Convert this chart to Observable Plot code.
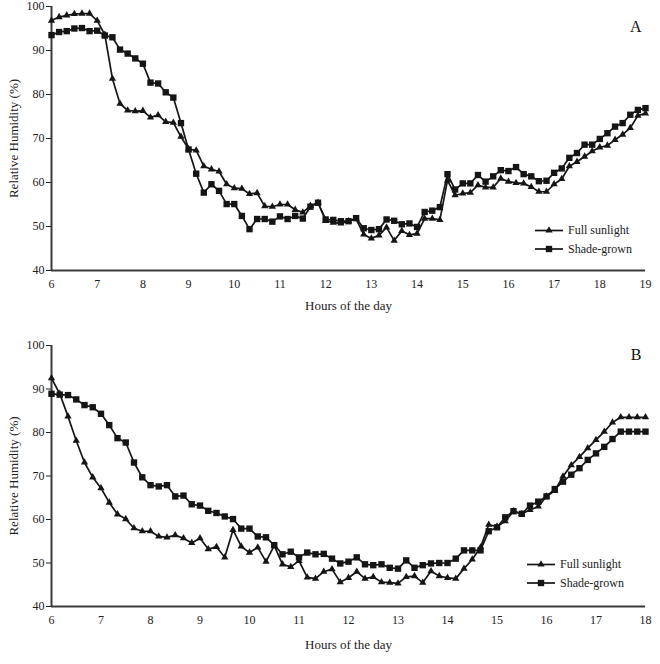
<!DOCTYPE html>
<html><head><meta charset="utf-8">
<script src="https://cdn.jsdelivr.net/npm/d3@7"></script>
<script src="https://cdn.jsdelivr.net/npm/@observablehq/plot@0.6"></script>
<style>
body{margin:0;background:#fff;}
#chart svg{display:block;}
</style></head><body><div id="chart"></div>
<script>
const seriesNames = ["Full sunlight", "Shade-grown"];
const yTicks = [40, 50, 60, 70, 80, 90, 100];
const hourTicksA = [6, 7, 8, 9, 10, 11, 12, 13, 14, 15, 16, 17, 18, 19];
const hourTicksB = [6, 7, 8, 9, 10, 11, 12, 13, 14, 15, 16, 17, 18];
const startHour = 6;
const stepMinutes = 10;
const axisTitleY = "Relative Humidity (%)";
const axisTitleX = "Hours of the day";

// Panel A (readings every 10 min from 6:00 to 19:00)
const fullA = [96.8, 97.6, 98.0, 98.3, 98.4, 98.4, 96.8, 93.6, 83.6, 77.9,
  76.4, 76.2, 76.3, 74.8, 75.3, 73.8, 73.6, 70.4, 67.6, 67.3,
  63.7, 63.0, 62.5, 59.6, 58.7, 58.6, 57.4, 57.6, 54.6, 54.5,
  55.0, 55.0, 53.8, 53.2, 54.7, 55.4, 51.3, 50.9, 50.7, 51.2,
  51.7, 48.2, 47.3, 48.0, 49.8, 46.8, 49.0, 48.1, 48.4, 51.8,
  51.8, 51.5, 60.5, 57.1, 57.5, 57.7, 59.4, 58.9, 58.9, 60.9,
  60.2, 59.9, 59.8, 59.0, 57.9, 57.9, 59.6, 60.8, 63.7, 64.7,
  65.9, 67.1, 68.0, 68.4, 69.7, 70.9, 72.4, 75.2, 75.7];
const shadeA = [93.5, 94.2, 94.4, 95.0, 95.1, 94.4, 94.5, 93.4, 93.0, 90.2,
  89.3, 88.2, 87.0, 82.7, 82.5, 80.5, 79.3, 73.5, 67.5, 62.0,
  57.7, 59.6, 58.1, 55.1, 55.1, 52.4, 49.4, 51.7, 51.7, 51.1,
  52.3, 51.7, 52.4, 51.8, 54.5, 55.4, 51.6, 51.5, 51.2, 51.2,
  51.9, 49.6, 49.2, 49.4, 51.6, 51.3, 50.5, 50.7, 49.9, 53.3,
  53.6, 54.4, 61.9, 58.4, 59.8, 59.8, 61.7, 60.2, 61.4, 62.8,
  62.6, 63.5, 61.9, 61.4, 60.3, 60.4, 62.2, 63.2, 65.6, 66.7,
  68.6, 68.6, 69.9, 71.2, 72.7, 73.5, 75.4, 76.5, 76.9];

// Panel B (readings every 10 min from 6:00 to 18:00)
const fullB = [92.5, 88.9, 83.7, 78.1, 73.1, 69.7, 67.2, 63.9, 61.2, 60.1,
  58.0, 57.3, 57.3, 56.1, 55.9, 56.4, 55.7, 54.6, 55.7, 53.2,
  53.7, 51.3, 57.6, 53.8, 52.4, 53.6, 50.3, 54.0, 49.7, 49.1,
  50.5, 46.7, 46.4, 48.0, 48.6, 45.6, 46.6, 48.0, 46.4, 46.8,
  45.6, 45.5, 45.3, 46.8, 47.0, 45.5, 48.1, 47.0, 46.6, 46.4,
  48.7, 50.8, 53.6, 58.8, 58.4, 59.6, 61.9, 61.3, 62.2, 63.0,
  65.3, 66.6, 69.9, 72.5, 74.4, 76.4, 78.3, 80.2, 82.3, 83.5,
  83.5, 83.5, 83.5];
const shadeB = [88.9, 88.7, 88.6, 87.6, 86.3, 85.8, 84.3, 81.7, 78.7, 77.7,
  73.1, 69.7, 67.9, 67.6, 67.9, 65.3, 65.5, 63.5, 63.2, 62.0,
  61.5, 60.7, 60.1, 57.9, 57.9, 56.1, 55.9, 54.1, 52.0, 52.6,
  51.3, 52.4, 52.0, 52.1, 51.0, 49.9, 50.3, 51.3, 49.7, 49.5,
  49.7, 48.9, 48.7, 50.6, 48.9, 49.5, 49.9, 50.0, 50.0, 51.0,
  52.9, 52.9, 52.9, 57.3, 58.2, 60.5, 61.9, 61.3, 63.2, 64.1,
  65.3, 67.0, 68.7, 70.3, 71.8, 73.7, 75.2, 76.7, 78.5, 80.2,
  80.2, 80.2, 80.2];

const FONT = "'Liberation Serif', 'Times New Roman', Times, serif";
const INK = "#151515";
const R_TRI = 2.7, R_SQ = 3.6;

function rows(values, series) {
  return values.map((v, i) => ({hour: startHour + i * stepMinutes / 60, rh: v, series}));
}

function panel(opt) {
  const {full, shade, ticks, letter, height, marginTop, marginBottom, letterDy, titleDy, legendTop, legendLeft} = opt;
  const x0 = ticks[0], x1 = ticks[ticks.length - 1];
  const dFull = rows(full, seriesNames[0]);
  const dShade = rows(shade, seriesNames[1]);
  const plot = Plot.plot({
    width: 660, height, marginTop, marginBottom, marginLeft: 51, marginRight: 15,
    style: {fontFamily: FONT, fontSize: "12px", color: "#222", background: "#fff", overflow: "visible"},
    x: {domain: [x0, x1]},
    y: {domain: [40, 100]},
    marks: [
      Plot.axisY({ticks: yTicks, tickSize: 5, tickPadding: 2, label: null, fontSize: 12}),
      Plot.axisX({ticks, tickSize: 0, tickPadding: 9, label: null, fontSize: 12}),
      Plot.ruleY([40], {x1: x0, x2: x1, stroke: "#3a3a3a", strokeWidth: 2}),
      Plot.ruleX([x0], {y1: 40, y2: 100, stroke: "#3a3a3a", strokeWidth: 2}),
      Plot.line(dShade, {x: "hour", y: "rh", stroke: INK, strokeWidth: 1.7}),
      Plot.line(dFull, {x: "hour", y: "rh", stroke: INK, strokeWidth: 1.7}),
      Plot.dot(dShade, {x: "hour", y: "rh", symbol: "square", r: R_SQ, fill: INK, stroke: "none"}),
      Plot.dot(dFull, {x: "hour", y: "rh", symbol: "triangle", r: R_TRI, fill: INK, stroke: "none"}),
      Plot.text([axisTitleY], {frameAnchor: "left", textAnchor: "middle", lineAnchor: "middle", rotate: -90, dx: -38, fontSize: 13, fill: "#222"}),
      Plot.text([axisTitleX], {frameAnchor: "bottom", textAnchor: "middle", lineAnchor: "middle", dy: titleDy, fontSize: 13, fill: "#222"}),
      Plot.text([letter], {frameAnchor: "top-right", textAnchor: "end", lineAnchor: "middle", dx: -4, dy: letterDy, fontSize: 16, fill: "#111"})
    ]
  });
  // legend
  const svg = d3.select(plot);
  const g = svg.append("g").attr("font-family", FONT).attr("font-size", 12).attr("fill", "#222");
  const items = [
    {name: seriesNames[0], sym: d3.symbolTriangle, r: R_TRI},
    {name: seriesNames[1], sym: d3.symbolSquare, r: R_SQ}
  ];
  items.forEach((it, k) => {
    const y = legendTop + k * 18.5;
    g.append("line").attr("x1", legendLeft).attr("x2", legendLeft + 28).attr("y1", y).attr("y2", y)
      .attr("stroke", INK).attr("stroke-width", 1.7);
    g.append("path").attr("d", d3.symbol(it.sym, it.r * it.r * Math.PI)())
      .attr("transform", `translate(${legendLeft + 14},${y})`).attr("fill", INK);
    g.append("text").attr("x", legendLeft + 33).attr("y", y).attr("dy", "0.32em")
      .attr("text-anchor", "start").text(it.name);
  });
  return plot;
}

const chart = document.getElementById("chart");
chart.append(panel({full: fullA, shade: shadeA, ticks: hourTicksA, letter: "A", height: 330,
  marginTop: 6, marginBottom: 60, letterDy: 20, titleDy: 35, legendTop: 230.5, legendLeft: 535}));
chart.append(panel({full: fullB, shade: shadeB, ticks: hourTicksB, letter: "B", height: 334,
  marginTop: 15, marginBottom: 58, letterDy: 9.5, titleDy: 38, legendTop: 234.5, legendLeft: 527}));
</script></body></html>
